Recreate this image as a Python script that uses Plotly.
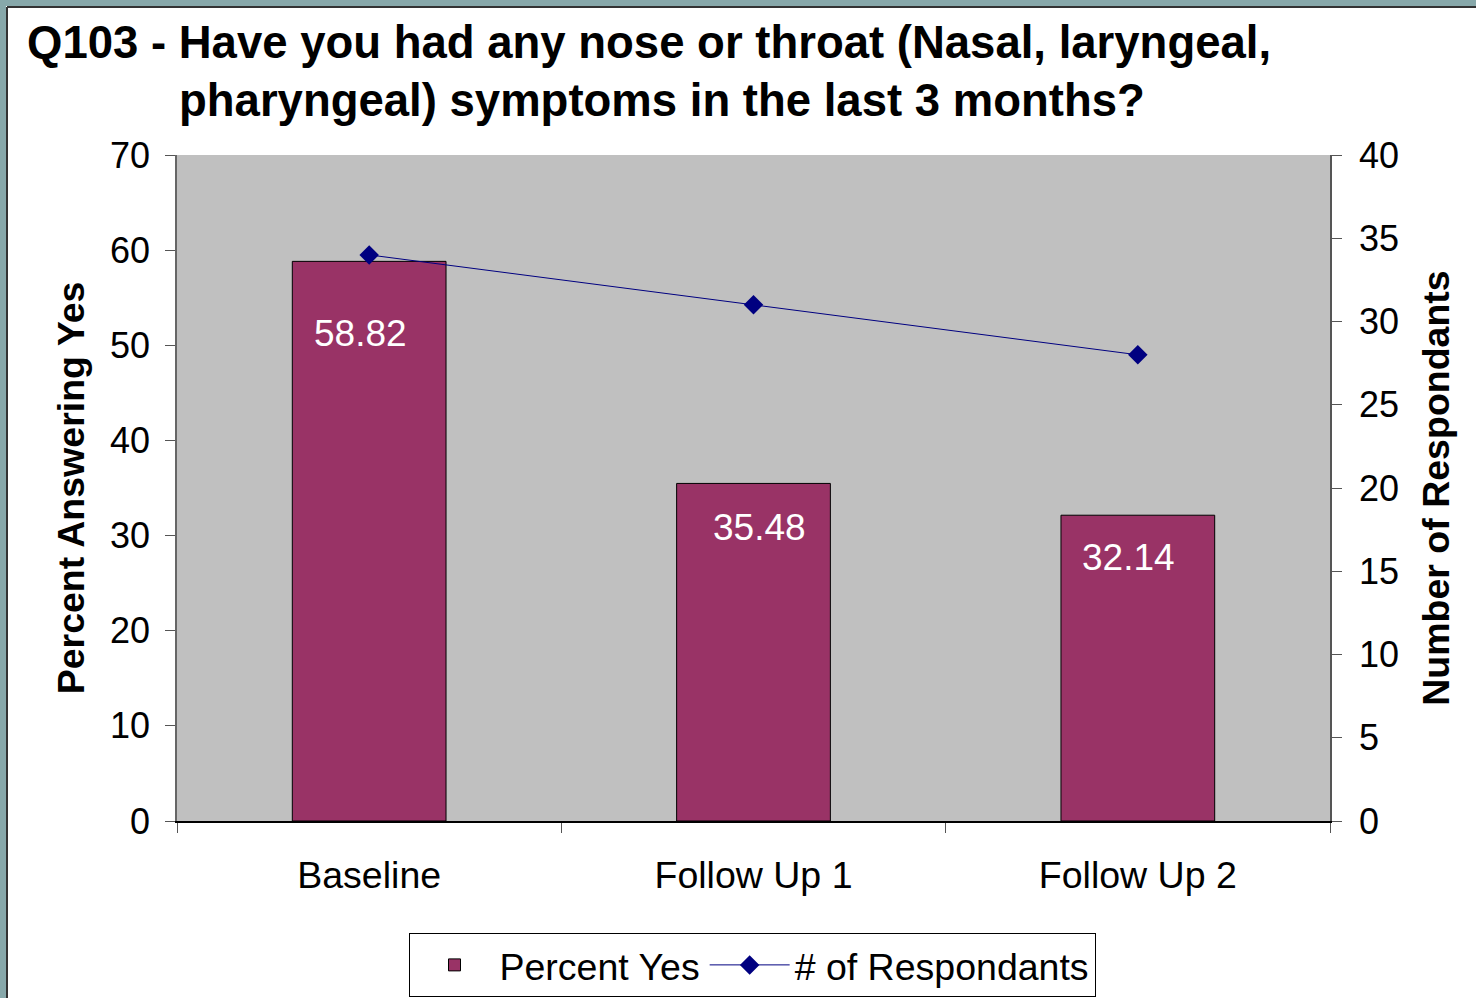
import plotly.graph_objects as go

categories = ["Baseline", "Follow Up 1", "Follow Up 2"]
percent_yes = [58.82, 35.48, 32.14]
respondents = [34, 31, 28]
pct_labels = ["58.82", "35.48", "32.14"]

W, H = 1476, 998
L, R, T, B = 177, 146, 155, 177
PW, PH = W - L - R, H - T - B

def px(x):
    return (x - L) / PW

def py(y):
    return (H - B - y) / PH

FONT = "Liberation Sans, Arial, sans-serif"

fig = go.Figure()
fig.add_trace(go.Bar(
    x=categories, y=percent_yes, name="Percent Yes",
    marker=dict(color="#993366", line=dict(color="#000000", width=1)),
    width=0.4, yaxis="y",
))
fig.add_trace(go.Scatter(
    x=categories, y=respondents, name="# of Respondants", mode="lines+markers",
    line=dict(color="#000080", width=1),
    marker=dict(symbol="diamond", size=15, color="#000080"),
    yaxis="y2",
))

label_yshift = [-72, -44, -42]
label_xshift = [-9, 6, -9]
for c, v, t, ys, xs in zip(categories, percent_yes, pct_labels, label_yshift, label_xshift):
    fig.add_annotation(x=c, y=v, text=t, showarrow=False, yshift=ys, xshift=xs,
                       font=dict(family=FONT, size=37, color="white"), xref="x", yref="y")

# title lines
fig.add_annotation(x=px(25), y=py(42), xref="paper", yref="paper", xanchor="left", yanchor="middle",
                   text="<b>Q103 - Have you had any nose or throat (Nasal, laryngeal,</b>",
                   showarrow=False, font=dict(family=FONT, size=45.5, color="black"))
fig.add_annotation(x=px(177), y=py(100), xref="paper", yref="paper", xanchor="left", yanchor="middle",
                   text="<b>pharyngeal) symptoms in the last 3 months?</b>",
                   showarrow=False, font=dict(family=FONT, size=45.5, color="black"))

# frame
teal = "#87A8AA"
fig.add_shape(type="rect", xref="paper", yref="paper", x0=px(0), x1=px(W), y0=py(0), y1=py(6),
              fillcolor=teal, line=dict(width=0), layer="above")
fig.add_shape(type="rect", xref="paper", yref="paper", x0=px(0), x1=px(6), y0=py(0), y1=py(H),
              fillcolor=teal, line=dict(width=0), layer="above")
fig.add_shape(type="line", xref="paper", yref="paper", x0=px(7), x1=px(W), y0=py(7), y1=py(7),
              line=dict(color="#333333", width=2), layer="above")
fig.add_shape(type="line", xref="paper", yref="paper", x0=px(7), x1=px(7), y0=py(7), y1=py(H),
              line=dict(color="#333333", width=2), layer="above")

ytickfont = dict(family=FONT, size=36, color="black")
xtickfont = dict(family=FONT, size=37.5, color="black")
titlefont = dict(family=FONT, size=37.5, color="black")
fig.update_layout(
    width=W, height=H,
    margin=dict(l=L, r=R, t=T, b=B, pad=0, autoexpand=False),
    paper_bgcolor="white", plot_bgcolor="#C0C0C0",
    showlegend=True, bargap=0.6,
    xaxis=dict(
        tickfont=xtickfont, tickson="boundaries", ticks="outside", ticklen=10,
        tickcolor="#555555", showline=True, linecolor="black", linewidth=1.5,
        ticklabelstandoff=20, showgrid=False,
    ),
    yaxis=dict(
        range=[0, 70], dtick=10, tickfont=ytickfont, ticks="outside", ticklen=10,
        tickcolor="#555555", showline=True, linecolor="#666666", linewidth=1.5,
        showgrid=False, zeroline=False, ticklabelstandoff=8,
        title=dict(text="<b>Percent Answering Yes</b>", font=titlefont, standoff=14),
    ),
    yaxis2=dict(
        range=[0, 40], dtick=5, overlaying="y", side="right", tickfont=ytickfont,
        ticks="outside", ticklen=10, tickcolor="#555555", showline=True, linecolor="#555555",
        linewidth=1.5, showgrid=False, zeroline=False, ticklabelstandoff=10,
        title=dict(text="<b>Number of Respondants</b>", font=titlefont, standoff=25),
    ),
    legend=dict(
        orientation="h", x=px(752), xanchor="center", y=py(933), yanchor="top",
        font=dict(family=FONT, size=37.5, color="black"),
        bordercolor="black", borderwidth=1, bgcolor="white",
        itemwidth=80,
    ),
)

fig.write_html("out.html", config={"displayModeBar": False},
               post_script="document.body.style.margin='0';document.body.style.overflow='hidden';")
